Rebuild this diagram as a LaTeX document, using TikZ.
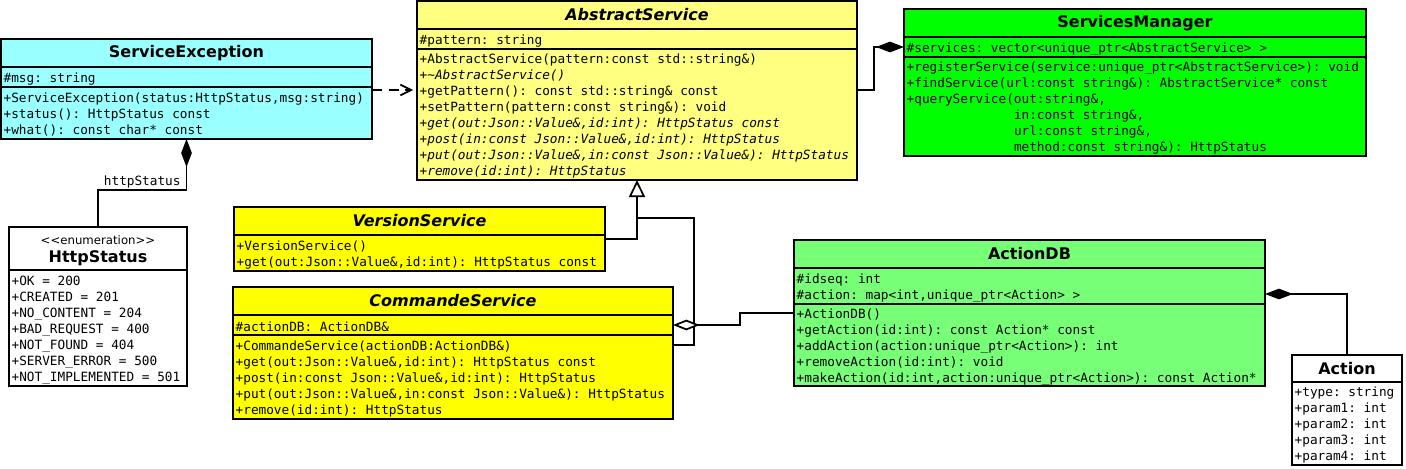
\documentclass[tikz,border=0pt]{standalone}
\usepackage{fontspec}
\usepackage{xcolor}
\usepackage{tikz}
\usetikzlibrary{positioning, arrows.meta}

\newfontfamily\umlsans{DejaVu Sans}
\newfontfamily\umlmono{DejaVu Sans Mono}
\newcommand\umlhead{\umlsans\bfseries\fontsize{12}{13}\selectfont}
\newcommand\umlcode{\umlmono\fontsize{9.55}{12}\selectfont\frenchspacing}

\definecolor{excyan}{RGB}{153,255,255}
\definecolor{abyellow}{RGB}{255,255,128}
\definecolor{smgreen}{RGB}{0,255,0}
\definecolor{svyellow}{RGB}{255,255,0}
\definecolor{dbgreen}{RGB}{119,255,119}

\begin{document}
\begin{tikzpicture}[
                    x=0.75pt, y=-0.75pt,
                    umlbox/.style={draw, line width=1.4pt, anchor=north west, inner xsep=2pt, inner ysep=0pt, outer sep=0pt},
                    head/.style={umlbox, fill=#1, font=\umlhead, align=center, minimum height=21pt},
                    part/.style={umlbox, fill=#1, font=\umlcode, align=flush left, execute at begin node={\rule{0pt}{10.1pt}}},
                    link/.style={line width=1.3pt, line join=miter},
                    depend/.style={link, dash pattern=on 7.5pt off 5pt, -{Straight Barb[length=8pt, width=8pt]}, shorten >=3pt},
                    inherit/.style={link, -{Triangle[fill=white, length=12.75pt, width=12pt]}},
                    compose/.style={link, -{Diamond[length=21pt, width=8pt]}},
                    aggregate/.style={link, -{Diamond[fill=white, length=20pt, width=8pt]}}
                ]

                    \useasboundingbox[fill=white] (0,0) rectangle (1406,468);

                    % ServiceException
                    \node (seTitle) [head=excyan, minimum width=278.25pt] at (1,39) {ServiceException};
                    \node (seAttr) [part=excyan, text width=274.25pt, minimum height=15pt] at (seTitle.south west) {\#msg: string};
                    \node (seOps) [part=excyan, text width=274.25pt, minimum height=39pt] at (seAttr.south west)
                        {+ServiceException(status:HttpStatus,msg:string)\\+status(): HttpStatus const\\+what(): const char* const};

                    % AbstractService
                    \node (asTitle) [head=abyellow, minimum width=330pt, font=\umlhead\itshape] at (417,1) {AbstractService};
                    \node (asAttr) [part=abyellow, text width=326pt, minimum height=15pt] at (asTitle.south west) {\#pattern: string};
                    \node (asOps) [part=abyellow, text width=326pt, minimum height=98.25pt] at (asAttr.south west)
                        {+AbstractService(pattern:const std::string\&)\\
                         \textit{+\textasciitilde AbstractService()}\\
                         +getPattern(): const std::string\& const\\
                         +setPattern(pattern:const string\&): void\\
                         \textit{+get(out:Json::Value\&,id:int): HttpStatus const}\\
                         \textit{+post(in:const Json::Value\&,id:int): HttpStatus}\\
                         \textit{+put(out:Json::Value\&,in:const Json::Value\&): HttpStatus}\\
                         \textit{+remove(id:int): HttpStatus}};

                    % ServicesManager
                    \node (smTitle) [head=smgreen, minimum width=346.5pt] at (904,9) {ServicesManager};
                    \node (smAttr) [part=smgreen, text width=342.5pt, minimum height=15pt] at (smTitle.south west)
                        {\#services: vector<unique\_ptr<AbstractService> >};
                    \node (smOps) [part=smgreen, text width=342.5pt, minimum height=74.25pt] at (smAttr.south west)
                        {+registerService(service:unique\_ptr<AbstractService>): void\\
                         +findService(url:const string\&): AbstractService* const\\
                         +queryService(out:string\&,\\
                         \phantom{+queryService(}in:const string\&,\\
                         \phantom{+queryService(}url:const string\&,\\
                         \phantom{+queryService(}method:const string\&): HttpStatus};

                    % HttpStatus
                    \node (hsTitle) [head=white, minimum width=133.5pt, minimum height=32.25pt] at (9,227)
                        {{\umlsans\mdseries\fontsize{8.8}{12.75}\selectfont \rule{0pt}{10pt}<\kern0pt<enumeration>\kern0pt>}\\[1pt]HttpStatus};
                    \node (hsAttr) [part=white, text width=129.5pt, minimum height=87pt] at (hsTitle.south west)
                        {+OK = 200\\+CREATED = 201\\+NO\_CONTENT = 204\\+BAD\_REQUEST = 400\\+NOT\_FOUND = 404\\+SERVER\_ERROR = 500\\+NOT\_IMPLEMENTED = 501};

                    % VersionService
                    \node (vsTitle) [head=svyellow, minimum width=278.25pt, font=\umlhead\itshape] at (234,207) {VersionService};
                    \node (vsOps) [part=svyellow, text width=274.25pt, minimum height=27pt] at (vsTitle.south west)
                        {+VersionService()\\+get(out:Json::Value\&,id:int): HttpStatus const};

                    % CommandeService
                    \node (csTitle) [head=svyellow, minimum width=330pt, font=\umlhead\itshape] at (233,287) {CommandeService};
                    \node (csAttr) [part=svyellow, text width=326pt, minimum height=15pt] at (csTitle.south west) {\#actionDB: ActionDB\&};
                    \node (csOps) [part=svyellow, text width=326pt, minimum height=63pt] at (csAttr.south west)
                        {+CommandeService(actionDB:ActionDB\&)\\
                         +get(out:Json::Value\&,id:int): HttpStatus const\\
                         +post(in:const Json::Value\&,id:int): HttpStatus\\
                         +put(out:Json::Value\&,in:const Json::Value\&): HttpStatus\\
                         +remove(id:int): HttpStatus};

                    % ActionDB
                    \node (dbTitle) [head=dbgreen, minimum width=353.25pt] at (794,240) {ActionDB};
                    \node (dbAttr) [part=dbgreen, text width=349.25pt, minimum height=27pt] at (dbTitle.south west)
                        {\#idseq: int\\\#action: map<int,unique\_ptr<Action> >};
                    \node (dbOps) [part=dbgreen, text width=349.25pt, minimum height=61.5pt] at (dbAttr.south west)
                        {+ActionDB()\\
                         +getAction(id:int): const Action* const\\
                         +addAction(action:unique\_ptr<Action>): int\\
                         +removeAction(id:int): void\\
                         +makeAction(id:int,action:unique\_ptr<Action>): const Action*};

                    % Action
                    \node (acTitle) [head=white, minimum width=82.5pt, minimum height=20.25pt] at (1292,355) {Action};
                    \node (acAttr) [part=white, text width=78.5pt, minimum height=62.25pt] at (acTitle.south west)
                        {+type: string\\+param1: int\\+param2: int\\+param3: int\\+param4: int};

                    % Connectors
                    \coordinate (depStart) at ([yshift=-2.25pt]seOps.north east);
                    \draw[depend] (depStart) -- (depStart -| asOps.west);

                    \draw[compose] (hsTitle.north) -- ++(0,-37) -| node[pos=0.25, above, inner sep=1pt, font=\umlcode] {httpStatus} (seOps.south);

                    \coordinate (genJoint) at ([yshift=-28.5pt]asOps.south);
                    \draw[inherit] ([yshift=-3pt]vsOps.north east) -| (asOps.south);
                    \draw[link] ([yshift=-7.5pt]csOps.north east) -- ++(21,0) |- (genJoint);

                    \coordinate (aggStart) at ([yshift=-6.75pt]dbOps.north west);
                    \draw[aggregate] (aggStart) -- ++(-54,0) |- (csAttr.east);

                    \draw[compose] (acTitle.north) |- ([yshift=7.5pt]dbAttr.south east);

                    \coordinate (mgrStart) at ([yshift=-30.75pt]asOps.north east);
                    \draw[compose] (mgrStart) -- ++(17,0) |- (smAttr.west);

                \end{tikzpicture}
\end{document}
